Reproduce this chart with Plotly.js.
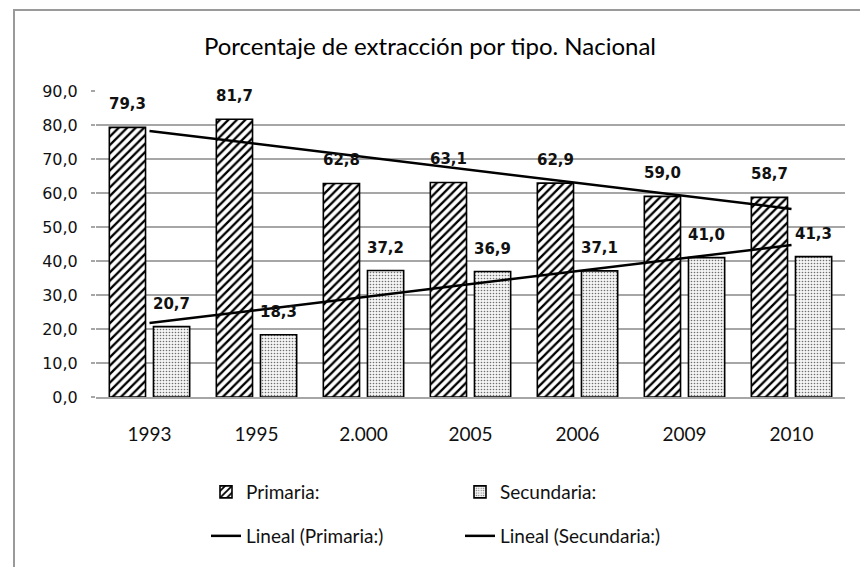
<!DOCTYPE html>
<html>
<head>
<meta charset="utf-8">
<script src="https://cdn.plot.ly/plotly-3.0.1.min.js"></script>
<style>
  html, body { margin: 0; padding: 0; background: #ffffff; }
  #chart { width: 860px; height: 567px; }
</style>
</head>
<body>
<div id="chart"></div>
<script>
// ---- data ----
const categories = ["1993", "1995", "2.000", "2005", "2006", "2009", "2010"];
const primaria   = [79.3, 81.7, 62.8, 63.1, 62.9, 59.0, 58.7];
const secundaria = [20.7, 18.3, 37.2, 36.9, 37.1, 41.0, 41.3];
const seriesNames = ["Primaria:", "Secundaria:"];
const trendNames  = ["Lineal (Primaria:)", "Lineal (Secundaria:)"];
const chartTitle  = "Porcentaje de extracción por tipo. Nacional";

// linear trendline (least squares over category index), as in the original spreadsheet
function linearFit(vals) {
  const n = vals.length;
  const xs = vals.map((_, i) => i + 1);
  const mx = xs.reduce((a, b) => a + b, 0) / n;
  const my = vals.reduce((a, b) => a + b, 0) / n;
  let sxy = 0, sxx = 0;
  for (let i = 0; i < n; i++) { sxy += (xs[i] - mx) * (vals[i] - my); sxx += (xs[i] - mx) ** 2; }
  const b = sxy / sxx, a = my - b * mx;
  return xs.map(x => a + b * x);
}
const fmt = v => v.toFixed(1).replace('.', ',');

// ---- layout geometry ----
const W = 860, H = 567;
const M = { l: 96, r: 15, t: 91, b: 170 };
const pw = W - M.l - M.r, ph = H - M.t - M.b;
const px2paperX = p => (p - M.l) / pw;
const px2paperY = p => (H - M.b - p) / ph;

const calibri = "Lato, 'Open Sans', sans-serif";
const verdana = "'DejaVu Sans', Verdana, sans-serif";

const traces = [
  {
    type: "bar", name: seriesNames[0], x: categories, y: primaria,
    marker: {
      color: "#ffffff",
      line: { color: "#000000", width: 1.6 },
      pattern: { shape: "/", fgcolor: "#000000", bgcolor: "#ffffff", size: 6, solidity: 0.38, fillmode: "replace" }
    },
    legend: "legend", hoverinfo: "skip"
  },
  {
    type: "bar", name: seriesNames[1], x: categories, y: secundaria,
    marker: {
      color: "#ffffff",
      line: { color: "#000000", width: 1.6 },
      pattern: { shape: ".", fgcolor: "#6e6e6e", bgcolor: "#f4f4f4", size: 3, solidity: 0.22, fillmode: "replace" }
    },
    legend: "legend", hoverinfo: "skip"
  },
  {
    type: "scatter", mode: "lines", name: trendNames[0], x: categories, y: linearFit(primaria),
    line: { color: "#000000", width: 2.5 }, legend: "legend2", hoverinfo: "skip"
  },
  {
    type: "scatter", mode: "lines", name: trendNames[1], x: categories, y: linearFit(secundaria),
    line: { color: "#000000", width: 2.5 }, legend: "legend2", hoverinfo: "skip"
  }
];

// data labels
const off = 0.206;
const annotations = [];
primaria.forEach((v, i) => annotations.push({
  x: i - off, y: v, xref: "x", yref: "y", text: fmt(v), showarrow: false, yshift: 23,
  font: { family: verdana, size: 15, color: "#111111", weight: "bold" }
}));
secundaria.forEach((v, i) => annotations.push({
  x: i + off, y: v, xref: "x", yref: "y", text: fmt(v), showarrow: false, yshift: 23,
  font: { family: verdana, size: 15, color: "#111111", weight: "bold" }
}));

const legendCommon = {
  orientation: "h", xanchor: "left", yanchor: "middle",
  font: { family: calibri, size: 19, color: "#111111" },
  bgcolor: "rgba(0,0,0,0)", entrywidth: 209, entrywidthmode: "pixels",
  itemclick: false, itemdoubleclick: false
};

const layout = {
  width: W, height: H,
  margin: M,
  paper_bgcolor: "#ffffff", plot_bgcolor: "#ffffff",
  separators: ",.",
  showlegend: true,
  title: {
    text: chartTitle, x: 0.5, xref: "container", xanchor: "center",
    y: 1 - 47 / H, yref: "container", yanchor: "middle",
    font: { family: calibri, size: 24, color: "#000000" }
  },
  barmode: "group", bargap: 0.175, bargroupgap: 0.18,
  xaxis: {
    type: "category", showgrid: false, showline: true, linecolor: "#a6a6a6", linewidth: 2,
    ticks: "", ticklabelstandoff: 19,
    tickfont: { family: calibri, size: 19, color: "#111111" }, fixedrange: true
  },
  yaxis: {
    range: [0, 90], dtick: 10, tick0: 0, tickformat: ".1f",
    showgrid: true, gridcolor: "#a6a6a6", gridwidth: 2, zeroline: false, showline: false,
    ticks: "outside", ticklen: 4, tickcolor: "#a6a6a6", tickwidth: 2, ticklabelstandoff: 10,
    tickfont: { family: verdana, size: 16, color: "#111111" }, fixedrange: true
  },
  legend: Object.assign({}, legendCommon, { x: px2paperX(206), y: px2paperY(492) }),
  legend2: Object.assign({}, legendCommon, { x: px2paperX(206), y: px2paperY(536) }),
  annotations: annotations,
  shapes: [{
    type: "rect", xref: "paper", yref: "paper", layer: "below",
    x0: px2paperX(14), x1: px2paperX(880), y0: px2paperY(600), y1: px2paperY(10),
    line: { color: "#9a9a9a", width: 2 }, fillcolor: "rgba(0,0,0,0)"
  }]
};

Plotly.newPlot("chart", traces, layout, { displayModeBar: false, staticPlot: true });
</script>
</body>
</html>
